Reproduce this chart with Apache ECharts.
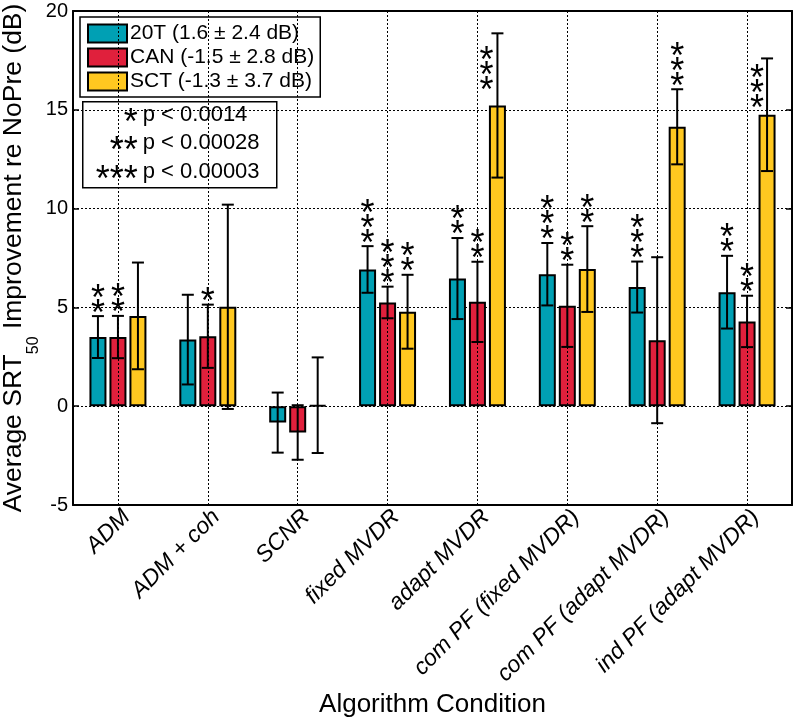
<!DOCTYPE html>
<html><head><meta charset="utf-8">
<script src="https://cdn.jsdelivr.net/npm/echarts@6/dist/echarts.min.js"></script>
<style>html,body{margin:0;padding:0;background:#fff}#c{width:800px;height:722px}</style>
</head><body><div id="c"></div>
<script>
// ---- data ----
const categories = ['ADM', 'ADM + coh', 'SCNR', 'fixed MVDR', 'adapt MVDR',
  'com PF (fixed MVDR)', 'com PF (adapt MVDR)', 'ind PF (adapt MVDR)'];
const seriesNames = ['20T (1.6 ± 2.4 dB)', 'CAN (-1.5 ± 2.8 dB)', 'SCT (-1.3 ± 3.7 dB)'];
const mean20T = [3.50, 3.37, -0.83, 6.92, 6.46, 6.68, 6.03, 5.77];
const err20T  = [1.06, 2.27, 1.52, 1.18, 2.05, 1.58, 1.29, 1.84];
const meanCAN = [3.50, 3.54, -1.33, 5.25, 5.28, 5.08, 3.34, 4.29];
const errCAN  = [1.07, 1.60, 1.38, 0.80, 2.03, 2.08, 4.20, 1.30];
const meanSCT = [4.57, 5.03, 0.05, 4.78, 15.22, 6.94, 14.14, 14.75];
const errSCT  = [2.70, 5.17, 2.42, 1.87, 3.65, 2.17, 1.90, 2.85];
const stars20T = [2, 0, 0, 3, 2, 3, 3, 2];
const starsCAN = [2, 1, 0, 3, 2, 2, 0, 2];
const starsSCT = [0, 0, 0, 2, 3, 2, 3, 3];
const sigStars = ['*', '**', '***'];
const sigLabels = ['p < 0.0014', 'p < 0.00028', 'p < 0.00003'];
const yMin = -5, yMax = 20, yStep = 5;

// ---- styling / layout ----
const colors = ['#00A0B4', '#E0203C', '#FFC820'];
const means = [mean20T, meanCAN, meanSCT];
const errs = [err20T, errCAN, errSCT];
const starCounts = [stars20T, starsCAN, starsSCT];
const xOff = [-20, 0, 20];
const FONT = 'Liberation Sans, Arial, sans-serif';
const STARFONT = '36px Liberation Sans, Arial, sans-serif';
const STAR_DY = 9; // glyph sits high in its em box
// star stacks that don't fit above the error bar are moved to its left (layout only)
const starLayout = { '2-4': { dx: -11, dy: 49.5 }, '2-7': { dx: -10, dy: 43 } };

function errRender(s) {
  return function (params, api) {
    const c = api.value(0), m = api.value(1), e = api.value(2);
    const top = api.coord([c, m + e]);
    const bot = api.coord([c, m - e]);
    const x = top[0] + xOff[s];
    const st = { stroke: '#000', lineWidth: 2 };
    return { type: 'group', children: [
      { type: 'line', shape: { x1: x, y1: top[1], x2: x, y2: bot[1] }, style: st },
      { type: 'line', shape: { x1: x - 6, y1: top[1], x2: x + 6, y2: top[1] }, style: st },
      { type: 'line', shape: { x1: x - 6, y1: bot[1], x2: x + 6, y2: bot[1] }, style: st }
    ]};
  };
}
function starRender(s) {
  return function (params, api) {
    const c = api.value(0), m = api.value(1), e = api.value(2), n = api.value(3);
    const top = api.coord([c, m + e]);
    const lay = starLayout[s + '-' + c] || { dx: 0, dy: -10.5 };
    const x = top[0] + xOff[s] + lay.dx;
    const children = [];
    for (let k = 0; k < n; k++) {
      children.push({ type: 'text', style: {
        text: '*', x: x, y: top[1] + lay.dy - k * 15 + STAR_DY,
        align: 'center', verticalAlign: 'middle',
        font: STARFONT, fill: '#000' } });
    }
    return { type: 'group', children };
  };
}

const series = [];
for (let s = 0; s < 3; s++) {
  series.push({
    name: seriesNames[s], type: 'bar', data: means[s],
    barWidth: 17, barGap: '17.6%', z: 3,
    itemStyle: { color: colors[s], borderColor: '#000', borderWidth: 2 }
  });
}
for (let s = 0; s < 3; s++) {
  series.push({
    name: 'err' + s, type: 'custom', z: 4, silent: true,
    renderItem: errRender(s),
    data: categories.map((_, i) => [i, means[s][i], errs[s][i]])
  });
  series.push({
    name: 'stars' + s, type: 'custom', z: 5, silent: true,
    renderItem: starRender(s),
    data: categories.map((_, i) => [i, means[s][i], errs[s][i], starCounts[s][i]])
  });
}
// vertical dotted grid lines at category centres
series.push({
  name: 'vgrid', type: 'line', data: [], z: 1, silent: true,
  markLine: { silent: true, symbol: 'none', label: { show: false },
    lineStyle: { color: '#000', type: [2, 2], width: 1 },
    data: categories.map(c => ({ xAxis: c })) }
});

const axisLineStyle = { color: '#000', width: 2 };
const option = {
  backgroundColor: '#fff',
  animation: false,
  grid: { left: 73, right: 8, top: 11, bottom: 217, containLabel: false, outerBoundsMode: 'none' },
  legend: {
    data: seriesNames, orient: 'vertical', left: 80, top: 17,
    padding: [6, 6, 5, 7], itemGap: 3, itemWidth: 39, itemHeight: 18,
    backgroundColor: '#fff', borderColor: '#000', borderWidth: 1.5,
    icon: 'rect', selectedMode: false,
    textStyle: { fontFamily: FONT, fontSize: 21, color: '#000', lineHeight: 21, padding: [0, 0, 0, -2] },
    itemStyle: { borderColor: '#000', borderWidth: 2 }
  },
  xAxis: [{
    type: 'category', data: categories, position: 'bottom',
    axisLine: { onZero: false, lineStyle: axisLineStyle },
    axisTick: { inside: true, alignWithLabel: true, length: 6, lineStyle: { color: '#000', width: 1.5 } },
    axisLabel: { rotate: 45, fontStyle: 'italic', fontFamily: FONT, fontSize: 23, color: '#000',
      margin: 17, interval: 0, padding: [0, -12, 0, 0] },
    name: 'Algorithm Condition', nameLocation: 'middle', nameGap: 187, nameMoveOverlap: false,
    nameTextStyle: { fontFamily: FONT, fontSize: 26, color: '#000' }
  }, {
    type: 'category', data: categories, position: 'top',
    axisLine: { onZero: false, lineStyle: axisLineStyle },
    axisTick: { inside: true, alignWithLabel: true, length: 6, lineStyle: { color: '#000', width: 1.5 } },
    axisLabel: { show: false }
  }],
  yAxis: [{
    type: 'value', min: yMin, max: yMax, interval: yStep, position: 'left',
    axisLine: { show: true, onZero: false, lineStyle: axisLineStyle },
    axisTick: { show: true, inside: true, length: 6, lineStyle: { color: '#000', width: 1.5 } },
    axisLabel: { fontFamily: FONT, fontSize: 20, color: '#000', margin: 5 },
    splitLine: { show: true, lineStyle: { color: '#000', type: [2, 2], width: 1 } },
    name: '{a|Average SRT}{s|50}{a| Improvement re NoPre (dB)}',
    nameLocation: 'middle', nameGap: 31, nameMoveOverlap: false,
    nameTextStyle: { rich: {
      a: { fontFamily: FONT, fontSize: 26.5, color: '#000', lineHeight: 57, verticalAlign: 'middle' },
      s: { fontFamily: FONT, fontSize: 16, color: '#000', lineHeight: 16, verticalAlign: 'bottom' }
    } }
  }, {
    type: 'value', min: yMin, max: yMax, interval: yStep, position: 'right',
    axisLine: { show: true, onZero: false, lineStyle: axisLineStyle },
    axisTick: { show: true, inside: true, length: 6, lineStyle: { color: '#000', width: 1.5 } },
    axisLabel: { show: false }, splitLine: { show: false }
  }],
  graphic: [{
    type: 'group', left: 82, top: 101, z: 100,
    children: [
      { type: 'rect', shape: { x: 0, y: 0, width: 194, height: 86 },
        style: { fill: '#fff', stroke: '#000', lineWidth: 1.5 } }
    ].concat(sigLabels.flatMap((t, i) => [
      { type: 'text', style: { text: sigStars[i], x: 55, y: 13 + i * 28.5 + STAR_DY, align: 'right', verticalAlign: 'middle',
          font: STARFONT, fill: '#000' } },
      { type: 'text', style: { text: t, x: 60, y: 13 + i * 28.5, align: 'left', verticalAlign: 'middle',
          font: '22px ' + FONT, fill: '#000' } }
    ]))
  }],
  series
};
const chart = echarts.init(document.getElementById('c'));
chart.setOption(option);
</script></body></html>
